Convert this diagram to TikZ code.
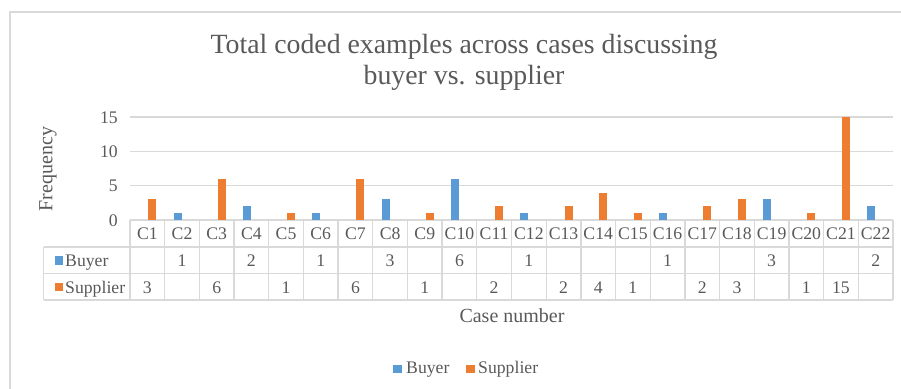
\documentclass[tikz,border=0pt]{standalone}
\usepackage{fontspec}
\setmainfont{Liberation Serif}
\definecolor{txt}{HTML}{595959}
\definecolor{gridc}{HTML}{D9D9D9}
\definecolor{buyerc}{HTML}{5B9BD5}
\definecolor{supplierc}{HTML}{ED7D31}
\begin{document}
\begin{tikzpicture}[x=1pt,y=-1pt,
  lbl/.style={text=txt,font=\fontsize{17.7}{20}\selectfont,inner sep=0pt,anchor=base},
  axtitle/.style={text=txt,font=\fontsize{20}{23}\selectfont,inner sep=0pt},
  ttl/.style={text=txt,font=\fontsize{27.8}{32}\selectfont,inner sep=0pt,anchor=base},
  gridline/.style={draw=gridc,line width=1.3pt},
  keybox/.style={inner sep=0pt,minimum size=8.5pt}]
\useasboundingbox (0,0) rectangle (901,388);
% chart frame
\draw[gridc,line width=1.5pt] (10,395) -- (10,12) -- (905,12);
% title
\node[ttl] (title1) at (464,53.3) {Total coded examples across cases discussing};
\node[ttl] (title2) at (464,84.3) {buyer vs. supplier};
% gridlines and tick labels
\foreach \v/\yy in {0/220,5/185.7,10/151.3,15/117}{
  \node[lbl,anchor=base east] (tick\v) at (118,\yy+6.2) {\v};
}
\foreach \yy in {117,151.3,185.7}{
  \draw[gridline] (130,\yy) -- (893,\yy);
}
\node[axtitle,rotate=90] (ylab) at (48,169) {Frequency};
% table grid
\def\cw{34.682}
\draw[gridline] (130,220) -- (893,220);
\draw[gridline] (43.5,247) -- (893,247);
\draw[gridline] (43.5,273.5) -- (893,273.5);
\draw[gridline] (43.5,300) -- (893,300);
\draw[gridline] (43.5,247) -- (43.5,300);
\foreach \i in {0,...,22}{
  \draw[gridline] ({130+\i*\cw},220) -- ({130+\i*\cw},300);
}
% row headers
\node[keybox,fill=buyerc] (kb) at (59.2,260.5) {};
\node[lbl,anchor=base west] (rb) at (65,266.7) {Buyer};
\node[keybox,fill=supplierc] (ks) at (59.2,287) {};
\node[lbl,anchor=base west] (rs) at (65,293) {Supplier};
% case headers
\foreach \i in {1,...,22}{
  \node[lbl] (h\i) at ({130+(\i-0.5)*\cw},239.5) {C\i};
}
% buyer values
\foreach \i/\v in {2/1,4/2,6/1,8/3,10/6,12/1,16/1,19/3,22/2}{
  \node[lbl] (b\i) at ({130+(\i-0.5)*\cw},266.5) {\v};
  \fill[buyerc] ({130+(\i-0.5)*\cw-8.5},220) rectangle ({130+(\i-0.5)*\cw-0.5},{220-\v*6.867});
}
% supplier values
\foreach \i/\v in {1/3,3/6,5/1,7/6,9/1,11/2,13/2,14/4,15/1,17/2,18/3,20/1,21/15}{
  \node[lbl] (s\i) at ({130+(\i-0.5)*\cw},293) {\v};
  \fill[supplierc] ({130+(\i-0.5)*\cw+1},220) rectangle ({130+(\i-0.5)*\cw+9},{220-\v*6.867});
}
% x axis title
\node[axtitle,anchor=base] (xlab) at (512,322.5) {Case number};
% legend
\node[keybox,fill=buyerc] (lkb) at (397.5,369) {};
\node[lbl,anchor=base west] (lb) at (406,373) {Buyer};
\node[keybox,fill=supplierc] (lks) at (470.5,369) {};
\node[lbl,anchor=base west] (ls) at (478,373) {Supplier};
\end{tikzpicture}
\end{document}
